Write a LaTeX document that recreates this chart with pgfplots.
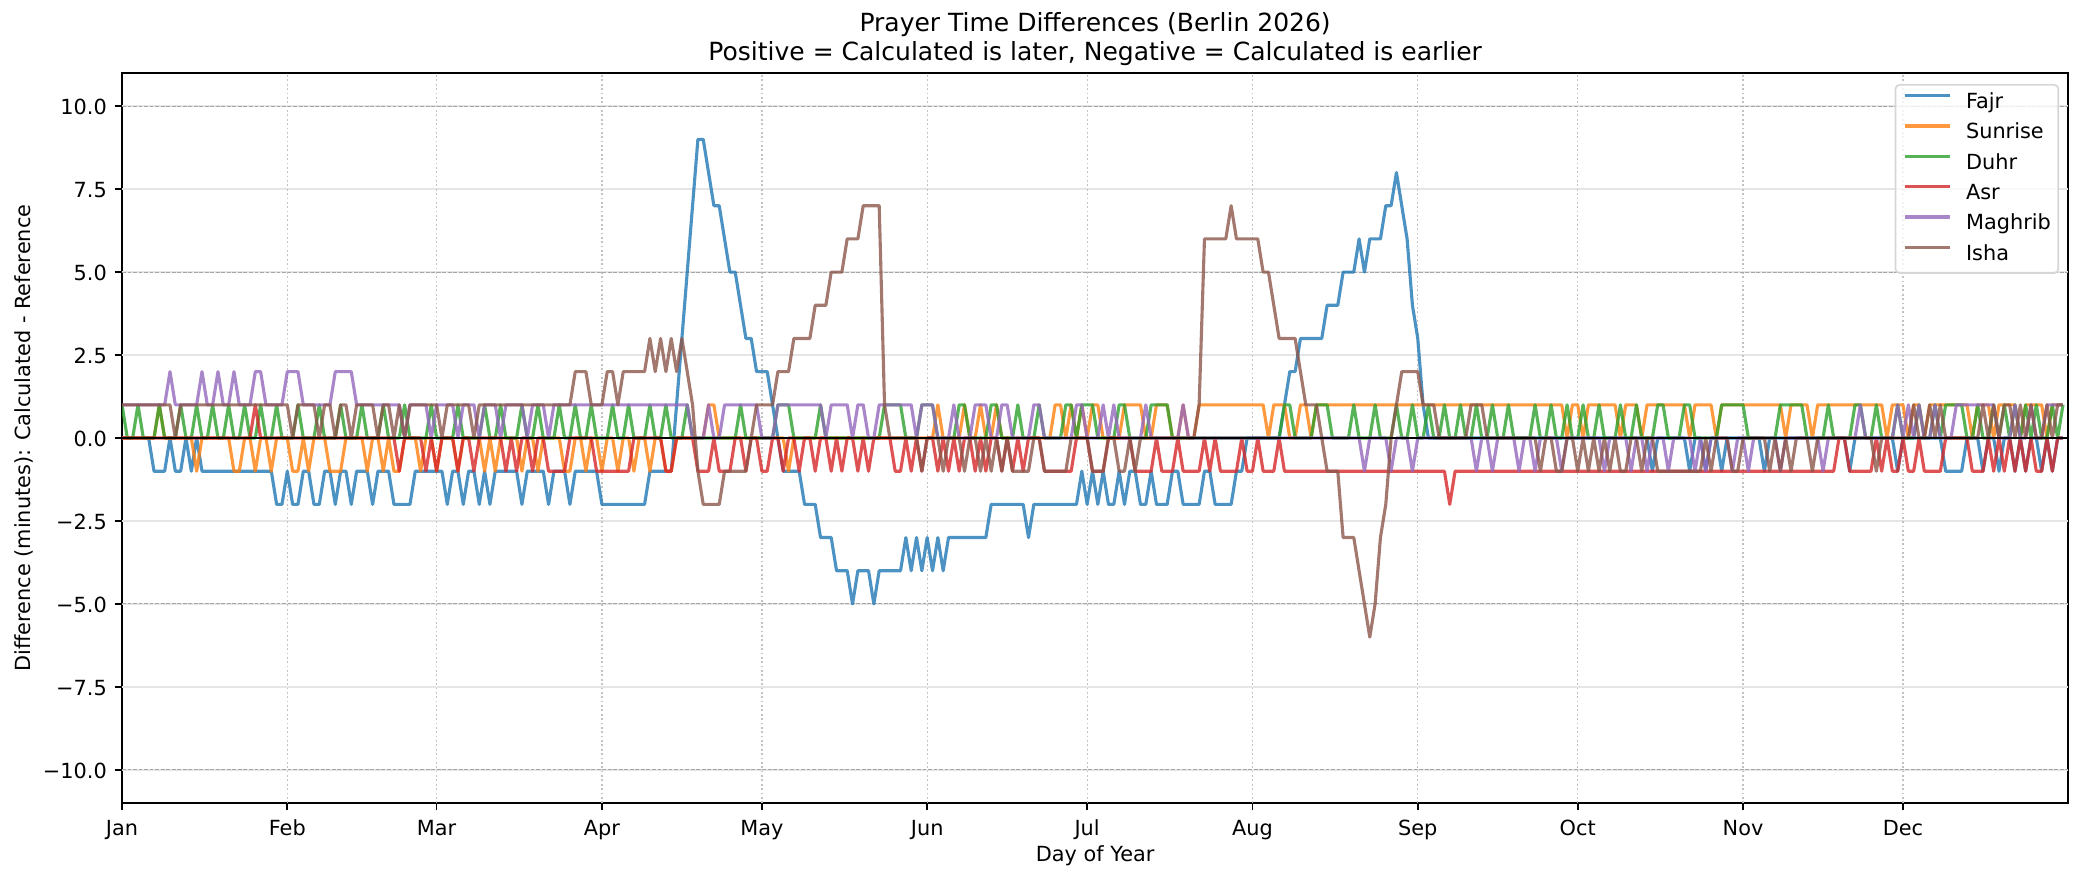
\documentclass[border=0pt]{standalone}
\usepackage{fontspec}
\setmainfont{DejaVu Sans}
\usepackage{pgfplots}
\usepackage{pgfplotstable}
\pgfplotsset{compat=1.18}
\definecolor{cF}{HTML}{1F77B4}
\definecolor{cS}{HTML}{FF7F0E}
\definecolor{cD}{HTML}{2CA02C}
\definecolor{cA}{HTML}{D62728}
\definecolor{cM}{HTML}{9467BD}
\definecolor{cI}{HTML}{8C564B}
\pgfplotsset{ser/.style={line width=1.5pt, draw opacity=0.8, line join=round, no markers}}

\pgfplotstableread[row sep=\\]{y\\
0\\0\\0\\0\\0\\0\\-1\\-1\\-1\\0\\
-1\\-1\\0\\-1\\0\\-1\\-1\\-1\\-1\\-1\\
-1\\-1\\-1\\-1\\-1\\-1\\-1\\-1\\-1\\-2\\
-2\\-1\\-2\\-2\\-1\\-1\\-2\\-2\\-1\\-1\\
-2\\-1\\-1\\-2\\-1\\-1\\-1\\-2\\-1\\-1\\
-1\\-2\\-2\\-2\\-2\\-1\\-1\\-1\\-1\\-1\\
-1\\-2\\-1\\-1\\-2\\-1\\-1\\-2\\-1\\-2\\
-1\\-1\\-1\\-1\\-1\\-2\\-1\\-1\\-1\\-1\\
-2\\-1\\-1\\-1\\-2\\-1\\-1\\-1\\-1\\-1\\
-2\\-2\\-2\\-2\\-2\\-2\\-2\\-2\\-2\\-1\\
-1\\-1\\-1\\-1\\1\\3\\5\\7\\9\\9\\
8\\7\\7\\6\\5\\5\\4\\3\\3\\2\\
2\\2\\1\\0\\-1\\-1\\-1\\-1\\-2\\-2\\
-2\\-3\\-3\\-3\\-4\\-4\\-4\\-5\\-4\\-4\\
-4\\-5\\-4\\-4\\-4\\-4\\-4\\-3\\-4\\-3\\
-4\\-3\\-4\\-3\\-4\\-3\\-3\\-3\\-3\\-3\\
-3\\-3\\-3\\-2\\-2\\-2\\-2\\-2\\-2\\-2\\
-3\\-2\\-2\\-2\\-2\\-2\\-2\\-2\\-2\\-2\\
-1\\-2\\-1\\-2\\-1\\-2\\-2\\-1\\-2\\-1\\
-1\\-2\\-2\\-1\\-2\\-2\\-2\\-1\\-1\\-2\\
-2\\-2\\-2\\-1\\-1\\-2\\-2\\-2\\-2\\-1\\
-1\\0\\0\\0\\0\\0\\0\\0\\1\\2\\
2\\3\\3\\3\\3\\3\\4\\4\\4\\5\\
5\\5\\6\\5\\6\\6\\6\\7\\7\\8\\
7\\6\\4\\3\\1\\0\\0\\0\\0\\0\\
0\\0\\0\\0\\0\\0\\0\\0\\0\\0\\
0\\0\\0\\0\\0\\0\\0\\0\\0\\0\\
0\\0\\0\\0\\0\\0\\0\\0\\0\\0\\
0\\0\\0\\0\\0\\0\\0\\-1\\0\\0\\
0\\0\\0\\0\\-1\\0\\0\\-1\\0\\0\\
-1\\0\\0\\0\\0\\0\\0\\0\\-1\\0\\
0\\0\\0\\0\\0\\0\\0\\0\\0\\0\\
0\\0\\0\\0\\-1\\0\\0\\0\\0\\0\\
0\\0\\0\\-1\\0\\0\\0\\0\\0\\0\\
0\\0\\-1\\-1\\-1\\-1\\0\\0\\0\\-1\\
0\\0\\-1\\0\\0\\-1\\0\\-1\\0\\0\\
-1\\0\\-1\\0\\0\\
}\dataFajr

\pgfplotstableread[row sep=\\]{y\\
0\\0\\0\\0\\0\\0\\0\\1\\0\\0\\
0\\0\\0\\0\\-1\\0\\0\\0\\0\\0\\
0\\-1\\-1\\0\\0\\-1\\0\\0\\-1\\0\\
0\\0\\-1\\-1\\0\\-1\\0\\0\\0\\-1\\
-1\\-1\\0\\0\\0\\0\\-1\\0\\0\\-1\\
0\\-1\\-1\\0\\0\\0\\-1\\0\\0\\-1\\
0\\0\\0\\-1\\0\\0\\0\\0\\-1\\0\\
-1\\0\\0\\0\\0\\-1\\0\\0\\-1\\0\\
0\\0\\0\\-1\\-1\\0\\0\\-1\\0\\0\\
-1\\0\\0\\-1\\0\\0\\-1\\0\\0\\-1\\
0\\0\\-1\\-1\\0\\0\\0\\0\\0\\0\\
1\\1\\0\\0\\0\\0\\0\\0\\0\\0\\
0\\0\\0\\0\\0\\-1\\0\\0\\0\\0\\
0\\0\\0\\0\\0\\0\\0\\0\\0\\0\\
0\\0\\0\\0\\0\\0\\0\\0\\0\\0\\
0\\0\\0\\1\\0\\0\\0\\0\\1\\0\\
0\\1\\0\\0\\1\\0\\0\\0\\0\\0\\
0\\0\\0\\0\\0\\1\\1\\0\\1\\0\\
1\\0\\1\\1\\0\\0\\0\\0\\1\\1\\
1\\1\\0\\0\\1\\1\\1\\0\\0\\1\\
0\\0\\1\\1\\1\\1\\1\\1\\1\\1\\
1\\1\\1\\1\\1\\0\\1\\1\\1\\0\\
0\\1\\1\\0\\1\\1\\1\\1\\1\\1\\
1\\1\\1\\1\\1\\1\\1\\1\\1\\1\\
1\\1\\1\\1\\1\\1\\1\\1\\1\\1\\
1\\1\\1\\1\\1\\1\\1\\1\\1\\1\\
1\\1\\1\\1\\1\\1\\1\\1\\1\\1\\
1\\0\\1\\1\\0\\1\\1\\1\\1\\1\\
1\\0\\1\\1\\1\\0\\1\\1\\1\\1\\
1\\1\\1\\1\\0\\1\\1\\1\\1\\0\\
1\\1\\1\\1\\1\\1\\1\\1\\1\\1\\
1\\1\\0\\1\\1\\1\\1\\0\\1\\1\\
1\\1\\1\\1\\1\\1\\1\\1\\1\\1\\
1\\0\\1\\1\\1\\0\\1\\1\\0\\1\\
1\\1\\1\\1\\1\\1\\1\\0\\1\\1\\
1\\0\\1\\1\\1\\1\\0\\1\\1\\1\\
1\\0\\1\\1\\1\\
}\dataSunrise

\pgfplotstableread[row sep=\\]{y\\
1\\0\\0\\1\\0\\0\\0\\1\\0\\0\\
0\\1\\0\\0\\1\\0\\0\\1\\0\\0\\
1\\0\\0\\1\\0\\0\\1\\0\\0\\1\\
0\\0\\0\\1\\0\\0\\0\\1\\0\\0\\
0\\1\\0\\0\\0\\1\\0\\0\\0\\1\\
0\\0\\0\\1\\0\\0\\0\\0\\1\\0\\
0\\0\\0\\1\\0\\0\\0\\0\\1\\0\\
0\\1\\0\\0\\0\\1\\0\\0\\1\\0\\
0\\0\\1\\0\\0\\1\\0\\0\\1\\0\\
0\\0\\1\\0\\0\\1\\0\\0\\0\\1\\
0\\0\\1\\0\\0\\0\\1\\0\\0\\0\\
0\\0\\0\\0\\0\\0\\1\\0\\0\\0\\
0\\0\\0\\1\\1\\1\\0\\0\\0\\0\\
0\\1\\0\\0\\0\\0\\0\\0\\0\\0\\
0\\0\\0\\1\\1\\1\\1\\0\\0\\0\\
1\\1\\1\\0\\0\\0\\0\\1\\1\\0\\
0\\0\\0\\1\\1\\0\\0\\0\\1\\0\\
0\\0\\1\\0\\0\\0\\0\\1\\1\\0\\
1\\1\\1\\0\\0\\0\\0\\1\\1\\0\\
0\\0\\0\\1\\1\\1\\1\\0\\0\\0\\
0\\0\\0\\0\\0\\0\\0\\0\\0\\0\\
0\\0\\0\\0\\0\\0\\0\\0\\1\\1\\
0\\0\\0\\0\\1\\1\\1\\0\\0\\0\\
0\\1\\0\\0\\0\\1\\0\\0\\0\\1\\
0\\0\\1\\0\\0\\1\\0\\0\\1\\0\\
0\\1\\0\\0\\1\\0\\0\\1\\0\\0\\
1\\0\\0\\0\\0\\1\\0\\0\\1\\0\\
0\\1\\0\\0\\1\\0\\0\\1\\0\\0\\
0\\1\\0\\0\\1\\0\\0\\0\\1\\1\\
0\\0\\0\\1\\1\\0\\0\\0\\0\\0\\
1\\1\\1\\1\\1\\0\\0\\0\\0\\0\\
0\\1\\1\\1\\1\\1\\0\\0\\0\\0\\
1\\0\\0\\0\\0\\1\\1\\0\\0\\1\\
0\\0\\0\\1\\0\\0\\0\\1\\0\\0\\
1\\0\\1\\1\\1\\1\\0\\0\\1\\0\\
0\\1\\0\\1\\0\\1\\0\\1\\0\\1\\
0\\0\\1\\0\\1\\
}\dataDuhr

\pgfplotstableread[row sep=\\]{y\\
0\\0\\0\\0\\0\\0\\0\\0\\0\\0\\
0\\0\\0\\0\\0\\0\\0\\0\\0\\0\\
0\\0\\0\\0\\0\\1\\0\\0\\0\\0\\
0\\0\\0\\0\\0\\0\\0\\0\\0\\0\\
0\\0\\0\\0\\0\\0\\0\\0\\0\\0\\
0\\0\\-1\\0\\0\\0\\0\\-1\\0\\-1\\
0\\0\\0\\-1\\0\\0\\-1\\0\\0\\0\\
0\\0\\-1\\0\\-1\\0\\0\\-1\\0\\0\\
-1\\-1\\-1\\-1\\0\\0\\0\\0\\0\\-1\\
-1\\-1\\-1\\-1\\-1\\-1\\0\\0\\0\\0\\
0\\0\\-1\\-1\\0\\0\\0\\0\\-1\\-1\\
-1\\0\\-1\\-1\\-1\\0\\0\\-1\\0\\0\\
-1\\-1\\0\\0\\-1\\0\\0\\-1\\0\\0\\
-1\\0\\0\\-1\\0\\-1\\0\\0\\-1\\0\\
-1\\0\\0\\0\\0\\-1\\-1\\0\\-1\\0\\
-1\\0\\0\\-1\\0\\-1\\0\\-1\\0\\0\\
-1\\0\\-1\\0\\0\\-1\\0\\-1\\0\\-1\\
0\\0\\0\\-1\\-1\\-1\\-1\\-1\\-1\\0\\
0\\0\\-1\\-1\\-1\\0\\0\\0\\0\\0\\
-1\\-1\\-1\\-1\\0\\-1\\-1\\-1\\0\\-1\\
-1\\-1\\-1\\0\\-1\\0\\-1\\-1\\-1\\-1\\
0\\-1\\-1\\0\\-1\\-1\\-1\\0\\-1\\-1\\
-1\\-1\\-1\\-1\\-1\\-1\\-1\\-1\\-1\\-1\\
-1\\-1\\-1\\-1\\-1\\-1\\-1\\-1\\-1\\-1\\
-1\\-1\\-1\\-1\\-1\\-1\\-1\\-1\\-1\\-2\\
-1\\-1\\-1\\-1\\-1\\-1\\-1\\-1\\-1\\-1\\
-1\\-1\\-1\\-1\\-1\\-1\\-1\\-1\\-1\\-1\\
-1\\-1\\-1\\-1\\-1\\-1\\-1\\-1\\-1\\-1\\
-1\\-1\\-1\\-1\\-1\\-1\\-1\\-1\\-1\\-1\\
-1\\-1\\-1\\-1\\-1\\-1\\-1\\-1\\-1\\-1\\
-1\\-1\\-1\\-1\\-1\\-1\\-1\\-1\\-1\\-1\\
-1\\-1\\-1\\-1\\-1\\-1\\-1\\-1\\-1\\-1\\
-1\\-1\\0\\0\\-1\\-1\\-1\\-1\\-1\\0\\
-1\\0\\-1\\-1\\0\\-1\\-1\\0\\-1\\-1\\
-1\\-1\\0\\0\\0\\0\\0\\-1\\-1\\-1\\
0\\-1\\0\\-1\\0\\-1\\0\\-1\\0\\-1\\
-1\\0\\-1\\0\\0\\
}\dataAsr

\pgfplotstableread[row sep=\\]{y\\
1\\1\\1\\1\\1\\1\\1\\1\\1\\2\\
1\\1\\1\\1\\1\\2\\1\\1\\2\\1\\
1\\2\\1\\1\\1\\2\\2\\1\\1\\1\\
1\\2\\2\\2\\1\\1\\1\\1\\1\\1\\
2\\2\\2\\2\\1\\1\\1\\1\\1\\1\\
1\\1\\1\\0\\1\\1\\1\\1\\0\\1\\
1\\1\\1\\0\\1\\1\\1\\0\\1\\1\\
1\\0\\1\\1\\1\\1\\0\\1\\1\\1\\
0\\1\\1\\1\\1\\1\\1\\1\\1\\1\\
1\\1\\1\\1\\1\\1\\1\\1\\1\\1\\
1\\1\\1\\1\\1\\1\\1\\0\\0\\0\\
1\\0\\0\\1\\1\\1\\1\\1\\1\\1\\
0\\0\\0\\1\\1\\1\\1\\1\\1\\1\\
1\\1\\0\\1\\1\\1\\1\\0\\1\\1\\
0\\0\\1\\1\\1\\1\\1\\1\\1\\0\\
1\\1\\1\\0\\0\\0\\1\\0\\0\\0\\
1\\1\\1\\0\\0\\1\\1\\0\\0\\0\\
0\\1\\1\\0\\0\\0\\0\\0\\0\\1\\
1\\0\\0\\0\\1\\0\\1\\0\\0\\0\\
0\\0\\1\\0\\0\\0\\0\\0\\0\\1\\
0\\0\\0\\0\\0\\0\\0\\0\\0\\0\\
0\\0\\0\\0\\0\\0\\0\\0\\0\\0\\
0\\0\\0\\0\\0\\0\\0\\0\\0\\0\\
0\\0\\0\\-1\\0\\0\\0\\0\\-1\\0\\
0\\0\\-1\\0\\0\\0\\0\\0\\0\\0\\
0\\0\\0\\0\\-1\\0\\0\\-1\\0\\0\\
0\\0\\-1\\0\\0\\-1\\0\\0\\0\\0\\
-1\\0\\0\\0\\0\\0\\0\\0\\-1\\0\\
0\\0\\0\\-1\\0\\0\\-1\\0\\0\\0\\
-1\\0\\0\\0\\0\\-1\\0\\-1\\0\\0\\
0\\0\\-1\\0\\0\\-1\\0\\0\\0\\0\\
0\\-1\\0\\0\\0\\0\\0\\0\\0\\-1\\
0\\0\\0\\0\\0\\0\\1\\0\\0\\0\\
0\\0\\0\\1\\0\\1\\0\\1\\0\\0\\
1\\0\\0\\0\\1\\1\\1\\1\\1\\1\\
1\\1\\0\\0\\0\\1\\0\\0\\1\\0\\
0\\1\\1\\1\\1\\
}\dataMaghrib

\pgfplotstableread[row sep=\\]{y\\
1\\1\\1\\1\\1\\1\\1\\1\\1\\1\\
0\\1\\1\\1\\1\\1\\1\\1\\1\\1\\
1\\1\\1\\1\\1\\1\\1\\1\\1\\1\\
1\\1\\0\\1\\1\\1\\1\\0\\1\\1\\
0\\1\\1\\0\\1\\1\\1\\1\\0\\1\\
1\\0\\1\\0\\1\\1\\1\\1\\1\\1\\
0\\1\\1\\1\\1\\1\\0\\1\\1\\1\\
1\\1\\1\\1\\1\\1\\1\\1\\1\\1\\
1\\1\\1\\1\\1\\2\\2\\2\\1\\1\\
1\\2\\2\\1\\2\\2\\2\\2\\2\\3\\
2\\3\\2\\3\\2\\3\\2\\1\\-1\\-2\\
-2\\-2\\-2\\-1\\-1\\-1\\-1\\-1\\0\\1\\
1\\1\\1\\2\\2\\2\\3\\3\\3\\3\\
4\\4\\4\\5\\5\\5\\6\\6\\6\\7\\
7\\7\\7\\1\\0\\0\\0\\0\\0\\0\\
-1\\0\\0\\0\\-1\\0\\0\\0\\-1\\0\\
0\\-1\\0\\-1\\0\\-1\\0\\-1\\-1\\-1\\
-1\\0\\0\\-1\\-1\\-1\\-1\\-1\\0\\0\\
0\\0\\-1\\-1\\-1\\0\\0\\-1\\-1\\0\\
-1\\0\\0\\0\\0\\0\\0\\0\\0\\0\\
0\\0\\1\\6\\6\\6\\6\\6\\7\\6\\
6\\6\\6\\6\\5\\5\\4\\3\\3\\3\\
3\\2\\1\\1\\1\\0\\-1\\-1\\-1\\-3\\
-3\\-3\\-4\\-5\\-6\\-5\\-3\\-2\\0\\1\\
2\\2\\2\\2\\1\\1\\1\\0\\0\\0\\
0\\0\\0\\1\\1\\1\\0\\0\\0\\0\\
0\\0\\0\\0\\0\\0\\-1\\0\\0\\-1\\
-1\\0\\0\\-1\\0\\-1\\0\\-1\\0\\-1\\
0\\-1\\-1\\0\\0\\-1\\0\\0\\-1\\-1\\
-1\\-1\\-1\\-1\\-1\\-1\\-1\\0\\-1\\0\\
0\\0\\-1\\-1\\0\\0\\0\\0\\0\\-1\\
0\\-1\\0\\-1\\0\\0\\0\\-1\\0\\0\\
0\\0\\0\\0\\0\\0\\0\\0\\0\\-1\\
0\\0\\0\\0\\0\\0\\1\\0\\0\\1\\
0\\1\\0\\0\\0\\0\\0\\0\\0\\1\\
0\\1\\0\\1\\1\\0\\1\\0\\1\\0\\
0\\1\\0\\1\\1\\
}\dataIsha

\begin{document}
\begin{tikzpicture}
\path[use as bounding box] (-58.56pt,-37.44pt) rectangle (941.26pt,385.44pt);
\begin{axis}[
  at={(0pt,0pt)}, anchor=south west, scale only axis,
  width=934.2pt, height=350.4pt,
  xmin=0, xmax=365, ymin=-11, ymax=11,
  axis line style={line width=0.8pt, black},
  tick align=outside, major tick length=3.5pt,
  xtick pos=left, ytick pos=left,
  tick style={line width=0.8pt, black},
  xtick={0,31,59,90,120,151,181,212,243,273,304,334},
  xticklabels={Jan,Feb,Mar,Apr,May,Jun,Jul,Aug,Sep,Oct,Nov,Dec},
  ytick={-10,-7.5,-5,-2.5,0,2.5,5,7.5,10},
  yticklabels={−10.0,−7.5,−5.0,−2.5,0.0,2.5,5.0,7.5,10.0},
  ticklabel style={font=\fontsize{10}{12}\selectfont},
  xticklabel style={anchor=north, inner sep=0pt, text height=7.6pt, yshift=-4.2pt},
  yticklabel style={anchor=east, inner sep=0pt, xshift=-3.6pt, yshift=-0.5pt},
  legend style={at={(1,1)}, anchor=north east, xshift=-4.4pt, yshift=-5.3pt,
    draw=black!16, line width=0.8pt, rounded corners=2pt, fill=white,
    fill opacity=0.8, text opacity=1,
    inner xsep=3.6pt, inner ysep=3.9pt,
    font=\fontsize{10}{12}\selectfont,
    row sep=4.86pt, column sep=7.1pt,
    nodes={inner sep=0pt, text height=7.5pt, text depth=2.2pt}},
  legend cell align=left,
  legend image code/.code={\draw[#1] (0pt,3.6pt) -- (21.7pt,3.6pt);},
]
\pgfplotsinvokeforeach{-10,-7.5,-5,-2.5,0,2.5,5,7.5,10}{
  \addplot[forget plot, black!10, line width=0.8pt] coordinates {(0,#1) (365,#1)};
}
\pgfplotsinvokeforeach{31,59,90,120,151,181,212,243,273,304,334}{
  \addplot[forget plot, black!24, line width=0.6pt, dash pattern=on 0.8pt off 1.3pt] coordinates {(#1,-11) (#1,11)};
}
\pgfplotsinvokeforeach{-10,-5,5,10}{
  \addplot[forget plot, black!35, line width=0.5pt, dash pattern=on 1.85pt off 0.8pt] coordinates {(0,#1) (365,#1)};
}
\addplot[ser, cF] table[x expr=\coordindex, y=y] {\dataFajr};
\addlegendentry{Fajr}
\addplot[ser, cS] table[x expr=\coordindex, y=y] {\dataSunrise};
\addlegendentry{Sunrise}
\addplot[ser, cD] table[x expr=\coordindex, y=y] {\dataDuhr};
\addlegendentry{Duhr}
\addplot[ser, cA] table[x expr=\coordindex, y=y] {\dataAsr};
\addlegendentry{Asr}
\addplot[ser, cM] table[x expr=\coordindex, y=y] {\dataMaghrib};
\addlegendentry{Maghrib}
\addplot[ser, cI] table[x expr=\coordindex, y=y] {\dataIsha};
\addlegendentry{Isha}
\addplot[forget plot, black, line width=1pt] coordinates {(0,0) (365,0)};
\end{axis}
\node[anchor=base, inner sep=0pt, font=\fontsize{12}{14}\selectfont] at (467.1pt,370.2pt) {Prayer Time Differences (Berlin 2026)};
\node[anchor=base, inner sep=0pt, font=\fontsize{12}{14}\selectfont] at (467.1pt,356.4pt) {Positive = Calculated is later, Negative = Calculated is earlier};
\node[anchor=base, inner sep=0pt, font=\fontsize{10}{12}\selectfont] at (467.1pt,-28.3pt) {Day of Year};
\node[rotate=90, anchor=base, inner sep=0pt, font=\fontsize{10}{12}\selectfont] at (-44pt,175.2pt) {Difference (minutes): Calculated - Reference};
\end{tikzpicture}
\end{document}
